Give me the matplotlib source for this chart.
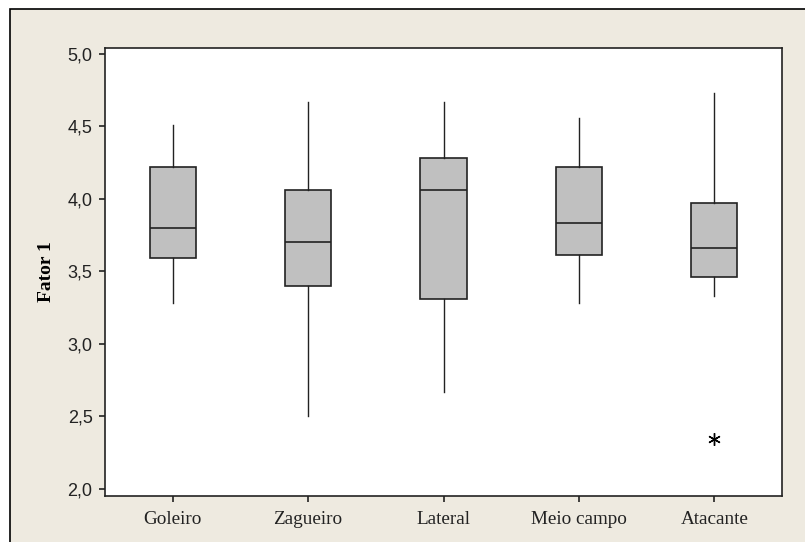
import matplotlib.pyplot as plt
from matplotlib.patches import Rectangle
from matplotlib.ticker import FuncFormatter

posicoes = ['Goleiro', 'Zagueiro', 'Lateral', 'Meio campo', 'Atacante']
whisk_hi = [4.51, 4.67, 4.67, 4.56, 4.73]
q3 = [4.22, 4.06, 4.28, 4.22, 3.97]
medianas = [3.80, 3.70, 4.06, 3.83, 3.66]
q1 = [3.59, 3.40, 3.31, 3.61, 3.46]
whisk_lo = [3.28, 2.50, 2.67, 3.28, 3.33]
outliers = [[], [], [], [], [2.34]]

stats = []
for i in range(len(posicoes)):
    stats.append(dict(label=posicoes[i], whishi=whisk_hi[i], q3=q3[i], med=medianas[i],
                      q1=q1[i], whislo=whisk_lo[i], fliers=outliers[i]))

fig = plt.figure(figsize=(8.05, 5.42), dpi=100, facecolor='white')
fig.patches.append(Rectangle((10 / 805, -0.1), 1.2, 1.1 - 9 / 542, transform=fig.transFigure,
                             facecolor='#eeeae0', edgecolor='black', linewidth=1.2, zorder=-1))
ax = fig.add_axes([105 / 805, 1 - 496 / 542, 677 / 805, 448 / 542])
ax.set_facecolor('white')

ax.bxp(stats, widths=0.34, patch_artist=True, showcaps=False,
       boxprops=dict(facecolor='#c0c0c0', edgecolor='#222222', linewidth=1.2),
       medianprops=dict(color='#222222', linewidth=1.2),
       whiskerprops=dict(color='#222222', linewidth=1.0),
       flierprops=dict(marker=(6, 2, 0), markersize=9, markeredgecolor='black', markeredgewidth=1.0))

ax.set_xlim(0.5, 5.5)
ax.set_ylim(1.95, 5.04)
ax.set_yticks([2.0, 2.5, 3.0, 3.5, 4.0, 4.5, 5.0])
ax.yaxis.set_major_formatter(FuncFormatter(lambda v, p: ('%.1f' % v).replace('.', ',')))
ax.tick_params(direction='out', length=4, width=1.2, colors='#222222')
ax.tick_params(axis='y', labelsize=13, labelcolor='#222222', pad=5)
ax.tick_params(axis='x', pad=7)
for lab in ax.get_yticklabels():
    lab.set_fontfamily('Liberation Sans')
ax.set_xticks(range(1, 6))
ax.set_xticklabels(posicoes, fontfamily='Liberation Serif', fontsize=13.8)
for s in ax.spines.values():
    s.set_linewidth(1.2)
    s.set_color('#222222')
ax.set_ylabel('Fator 1', fontfamily='Liberation Serif', fontweight='bold', fontsize=14, labelpad=9)

fig.savefig('out.png', dpi=100, facecolor=fig.get_facecolor())
